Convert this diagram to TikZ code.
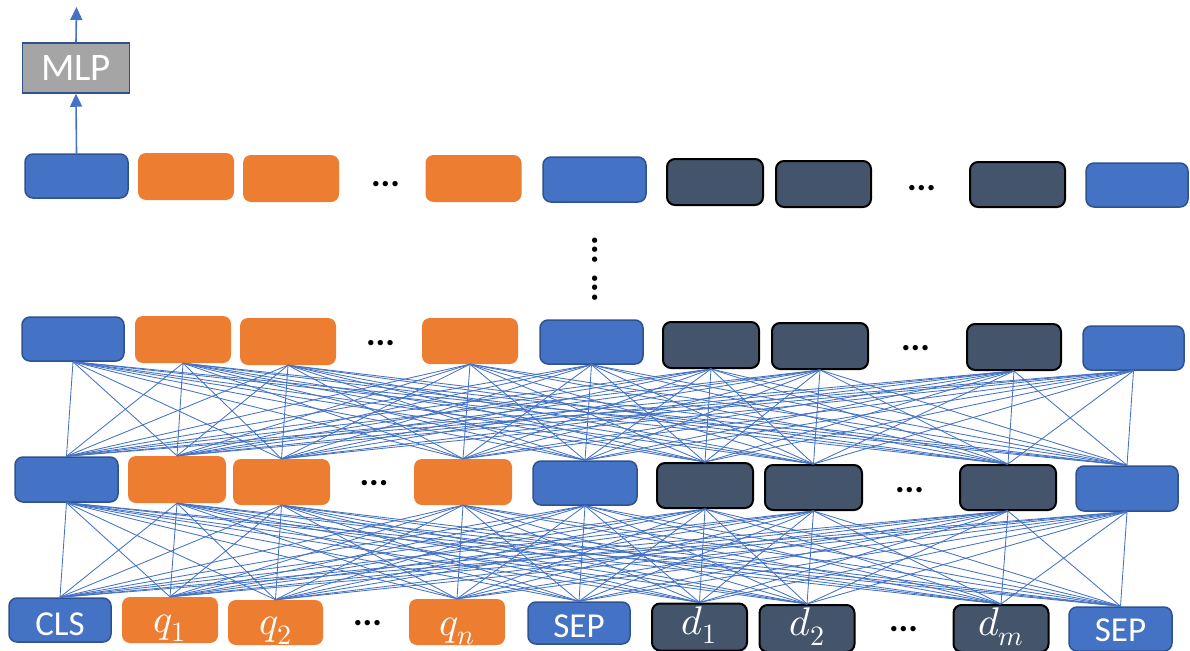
\documentclass[tikz,border=0pt]{standalone}
\usepackage{fontspec}
\usepackage{unicode-math}
\setmainfont{Carlito}
\setmathfont{Latin Modern Math}
\usetikzlibrary{arrows.meta}
\definecolor{bfill}{HTML}{4472C4}
\definecolor{bline}{HTML}{2F528F}
\definecolor{ofill}{HTML}{ED7D31}
\definecolor{dfill}{HTML}{44546A}
\definecolor{gfill}{HTML}{A5A5A5}
\begin{document}
\begin{tikzpicture}[x=1pt,y=-1pt,
  tok/.style={rounded corners=8pt, inner sep=0pt, minimum width=96pt, minimum height=46pt},
  bluebox/.style={tok, fill=bfill, draw=bline, line width=1.5pt, minimum width=102pt, minimum height=44pt},
  orbox/.style={tok, fill=ofill},
  dkbox/.style={tok, fill=dfill, draw=black, line width=2pt},
  conn/.style={draw=bfill, line width=0.85pt},
  lbl/.style={anchor=base, text=white, inner sep=0pt, font=\fontsize{35}{40}\selectfont},
  mlbl/.style={anchor=base, text=white, inner sep=0pt, font=\fontsize{40}{46}\selectfont},
  dots/.style={inner sep=0pt, font=\fontsize{36}{40}\selectfont\bfseries},
  arr/.style={draw=bfill, line width=1.6pt, -{Triangle[length=13pt,width=12pt]}}
]
\useasboundingbox (0,0) rectangle (1190,650);

% Row 1 (top)
\node[bluebox, minimum width=103pt] (a1) at (76.5,176) {};
\node[orbox, minimum height=47pt] (a2) at (186,176.5) {};
\node[orbox, minimum height=47pt] (a3) at (291,178.5) {};
\node[dots] (ad1) at (385.5,184) {...};
\node[orbox, minimum height=47pt] (a4) at (473.5,178.5) {};
\node[bluebox, minimum width=103pt, minimum height=45pt] (a5) at (594.5,179.5) {};
\node[dkbox] (a6) at (715,182) {};
\node[dkbox, minimum width=95pt] (a7) at (823.5,184) {};
\node[dots] (ad2) at (921.5,188) {...};
\node[dkbox, minimum width=95pt, minimum height=45pt] (a8) at (1017.5,184.5) {};
\node[bluebox] (a9) at (1137,185) {};

% vertical dots
\node[dots, rotate=90] (vd1) at (595,250) {...};
\node[dots, rotate=90] (vd2) at (595,288) {...};

% Row 2
\node[bluebox] (b1) at (73,339) {};
\node[orbox, minimum height=47pt] (b2) at (183,339.5) {};
\node[orbox, minimum height=47pt] (b3) at (288,341.5) {};
\node[dots] (bd1) at (380.5,343) {...};
\node[orbox] (b4) at (470,341) {};
\node[bluebox, minimum width=103pt] (b5) at (591.5,342) {};
\node[dkbox] (b6) at (711,345) {};
\node[dkbox] (b7) at (820,346) {};
\node[dots] (bd2) at (915.5,348) {...};
\node[dkbox, minimum width=94pt] (b8) at (1014,347) {};
\node[bluebox, minimum width=101pt] (b9) at (1133.5,348) {};

% Row 3
\node[bluebox, minimum width=103pt, minimum height=45pt] (c1) at (66.5,479.5) {};
\node[orbox, minimum width=98pt, minimum height=47pt] (c2) at (177,479.5) {};
\node[orbox, minimum width=97pt] (c3) at (281.5,482) {};
\node[dots] (cd1) at (374,483) {...};
\node[orbox, minimum width=98pt] (c4) at (463,482) {};
\node[bluebox, minimum width=104pt] (c5) at (585,483) {};
\node[dkbox, minimum height=45pt] (c6) at (705,485.5) {};
\node[dkbox, minimum width=97pt, minimum height=45pt] (c7) at (813.5,487.5) {};
\node[dots] (cd2) at (909.5,490) {...};
\node[dkbox, minimum height=45pt] (c8) at (1008,487.5) {};
\node[bluebox, minimum height=45pt] (c9) at (1127,488.5) {};

% Row 4 (input tokens)
\node[bluebox] (d1) at (60,620) {};
\node[orbox] (d2) at (170,620) {};
\node[orbox, minimum width=95pt, minimum height=45pt] (d3) at (275.5,622.5) {};
\node[dots] (dd1) at (367.5,623) {...};
\node[orbox] (d4) at (457,622) {};
\node[bluebox, minimum height=42pt] (d5) at (579,623) {};
\node[dkbox, minimum width=95pt, minimum height=47pt] (d6) at (699.5,627) {};
\node[dkbox, minimum width=95pt, minimum height=47pt] (d7) at (807,628.5) {};
\node[dots] (dd2) at (903.5,629) {...};
\node[dkbox, minimum width=95pt, minimum height=47pt] (d8) at (1001,628.5) {};
\node[bluebox, minimum width=103pt] (d9) at (1120.5,629) {};

% labels
\node[lbl] (l1) at ([yshift=-15pt]d1.center) {CLS};
\node[mlbl] (l2) at ([yshift=-12pt]d2.center) {$q_1$};
\node[mlbl] (l3) at ([yshift=-12pt]d3.center) {$q_2$};
\node[mlbl] (l4) at ([yshift=-13pt]d4.center) {$q_n$};
\node[lbl] (l5) at ([yshift=-14pt]d5.center) {SEP};
\node[mlbl] (l6) at ([yshift=-7pt]d6.center) {$d_1$};
\node[mlbl] (l7) at ([yshift=-7pt]d7.center) {$d_2$};
\node[mlbl] (l8) at ([yshift=-7pt]d8.center) {$d_m$};
\node[lbl] (l9) at ([yshift=-12pt]d9.center) {SEP};

% connections
\foreach \i in {1,...,9}{
  \foreach \j in {1,...,9}{
    \draw[conn] (d\i.north) -- (c\j.south);
    \draw[conn] (c\i.north) -- (b\j.south);
  }
}

% MLP
\node[tok, fill=gfill, draw=bline, line width=1.5pt, rounded corners=0pt, minimum width=107pt, minimum height=50pt,
      text=white, font=\fontsize{39}{42}\selectfont] (mlp) at (76,68) {MLP};
\coordinate (out) at (76.5,7);
\draw[arr] (a1.north) -- (mlp.south);
\draw[arr] (mlp.north) -- (out);
\end{tikzpicture}
\end{document}
